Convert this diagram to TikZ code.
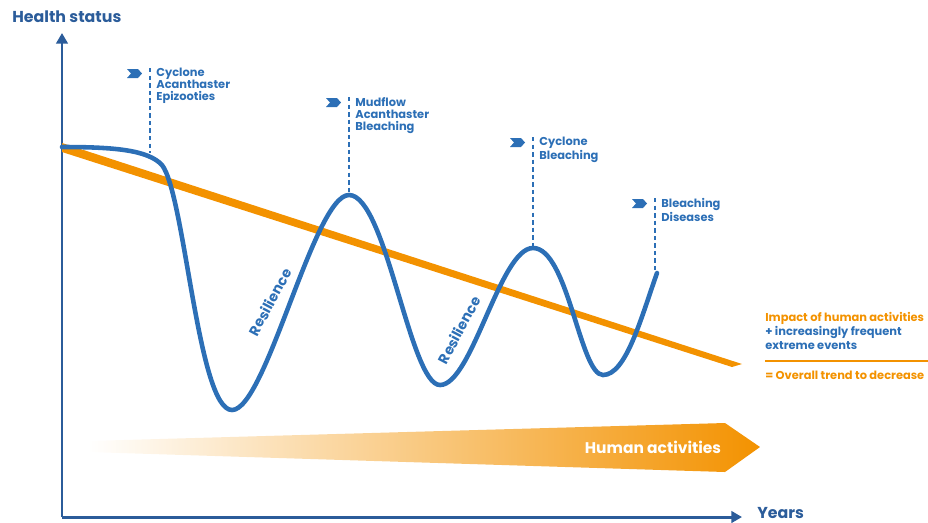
\documentclass[tikz,border=0pt]{standalone}
\usepackage{fontspec}
\setmainfont{Poppins}
\usetikzlibrary{arrows.meta, positioning, calc}

\definecolor{reefblue}{HTML}{2C6FB6}
\definecolor{axisblue}{HTML}{2B5C9A}
\definecolor{trendorange}{HTML}{F39200}

\tikzset{
  axis/.style={axisblue, line width=1.7pt, -{Triangle[length=6pt,width=6.5pt]}},
  health/.style={reefblue, line width=2.6pt, line cap=round},
  eventline/.style={reefblue, line width=0.6pt, dash pattern=on 2.5pt off 1.8pt},
  eventtext/.style={anchor=north west, inner sep=0pt, align=left, text=reefblue,
    font=\fontsize{6.5}{6.8}\selectfont\bfseries},
  resil/.style={text=reefblue, font=\fontsize{8}{8}\selectfont\bfseries, rotate=62},
  notetext/.style={anchor=west, inner sep=0pt, font=\fontsize{6.5}{6.5}\selectfont\bfseries},
  axislabel/.style={text=axisblue, inner sep=0pt, font=\fontsize{9}{9}\selectfont\bfseries},
}

% small chevron flag left of each event line
\newcommand{\eventflag}[1]{%
  \fill[reefblue, shift={(#1)}] (-23,1) -- (-12,1) -- (-8,5.5) -- (-12,10) -- (-23,10) -- (-19,5.5) -- cycle;}

\begin{document}
\begin{tikzpicture}[x=0.02cm, y=-0.02cm]
\useasboundingbox (0,0) rectangle (928,522);

% axes
\coordinate (o) at (62,517);
\coordinate (ytop) at (62,33);
\coordinate (xend) at (742,517);
\draw[axis] (o) -- (ytop);
\draw[axis] (o) -- (xend);
\node[axislabel, anchor=west] (hs) at (12,17) {Health status};
\node[axislabel, anchor=west] (yrs) at (757,513) {Years};

% overall trend band
\fill[trendorange] (62,143) -- (742,364) -- (732,367) -- (62,152) -- cycle;

% human activities arrow
\shade[left color=white, right color=trendorange]
  (88,441) -- (725,423) -- (760,447) -- (725,472) -- (88,452) -- cycle;
\node[text=white, font=\fontsize{8.8}{8.8}\selectfont\bfseries] (ha) at (653,447) {Human activities};

% health status curve
\coordinate (k1) at (150,153);
\coordinate (k2) at (349,195);
\coordinate (k3) at (533,248);
\coordinate (k4) at (655,276);
\draw[health] (62,147)
  .. controls (115,147) and (148,150) .. (162,165)
  .. controls (185,195) and (198,410) .. (232,410)
  .. controls (266,410) and (314,195) .. (k2)
  .. controls (386,195) and (410,385) .. (440,385)
  .. controls (472,385) and (500,248) .. (k3)
  .. controls (568,248) and (580,375) .. (603,375)
  .. controls (626,375) and (641,318) .. (657,273);

\node[resil] (r1) at (270,302) {Resilience};
\node[resil] (r2) at (459,330) {Resilience};

% events
\coordinate (e1) at (150,68);
\coordinate (e2) at (349,97);
\coordinate (e3) at (533,137);
\coordinate (e4) at (655,198);
\foreach \e/\k in {e1/k1, e2/k2, e3/k3, e4/k4} {
  \draw[eventline] (\e) -- (\k);
  \eventflag{\e}
}
\node[eventtext] (t1) at ($(e1)+(6,0)$) {Cyclone\\Acanthaster\\Epizooties};
\node[eventtext] (t2) at ($(e2)+(6,0)$) {Mudflow\\Acanthaster\\Bleaching};
\node[eventtext] (t3) at ($(e3)+(6,0)$) {Cyclone\\Bleaching};
\node[eventtext] (t4) at ($(e4)+(6,0)$) {Bleaching\\Diseases};

% legend of the trend
\node[notetext, text=trendorange] (n1) at (765,318) {Impact of human activities};
\node[notetext, text=reefblue] (n2) at (765,332) {+ increasingly frequent};
\node[notetext, text=reefblue] (n3) at (765,346) {extreme events};
\coordinate (s1) at (765,361);
\coordinate (s2) at (928,361);
\draw[trendorange, line width=0.6pt] (s1) -- (s2);
\node[notetext, text=trendorange] (n4) at (765,375) {= Overall trend to decrease};
\end{tikzpicture}
\end{document}
